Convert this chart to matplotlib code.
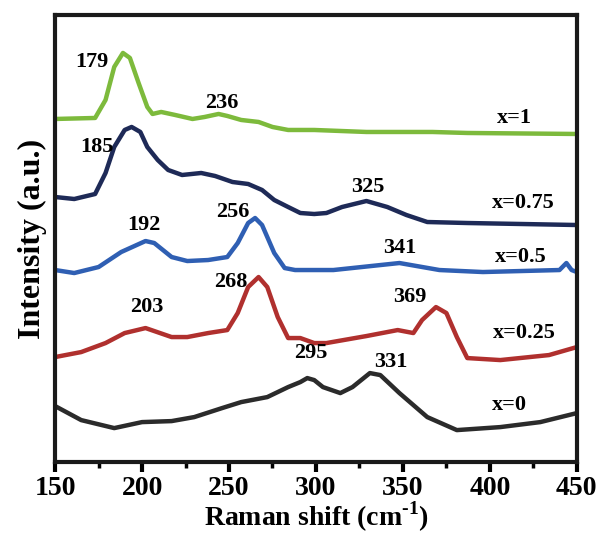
import matplotlib.pyplot as plt
from matplotlib.ticker import MultipleLocator

# Raman spectra, offset vertically for each composition (arbitrary units)
shift_x1 = [150, 173, 179, 184, 189, 193, 198, 203, 206, 211, 219, 229, 236, 244, 249,
            257, 267, 275, 284, 299, 329, 367, 387, 450]
int_x1 = [343, 344, 362, 395, 409, 404, 379, 355, 348, 350, 347, 343, 345, 348, 346,
          342, 340, 335, 332, 332, 330, 330, 329, 328]

shift_x075 = [150, 161, 173, 179, 184, 190, 194, 199, 203, 209, 215, 223, 234, 242, 252,
              261, 269, 276, 284, 291, 299, 306, 315, 329, 341, 352, 364, 387, 450]
int_x075 = [265, 263, 268, 289, 315, 332, 335, 330, 315, 302, 292, 287, 289, 286, 280,
            278, 272, 262, 255, 249, 248, 249, 255, 261, 255, 247, 240, 239, 237]

shift_x05 = [150, 161, 175, 188, 202, 207, 217, 226, 238, 249, 255, 261, 265, 269, 276,
             282, 288, 299, 310, 348, 371, 396, 440, 444, 447, 450]
int_x05 = [192, 189, 195, 210, 221, 219, 205, 201, 202, 205, 219, 239, 244, 237, 209,
           194, 192, 192, 192, 199, 192, 190, 192, 199, 192, 190]

shift_x025 = [150, 165, 179, 190, 202, 207, 217, 226, 238, 249, 255, 261, 267, 272, 278,
              284, 291, 299, 306, 329, 347, 356, 361, 369, 375, 381, 387, 406, 434, 450]
int_x025 = [105, 110, 119, 129, 134, 131, 125, 125, 129, 132, 149, 175, 185, 175, 145,
            124, 124, 119, 119, 126, 132, 129, 142, 155, 149, 125, 104, 102, 107, 115]

shift_x0 = [150, 165, 184, 200, 217, 230, 246, 257, 272, 284, 291, 295, 299, 304, 314,
            321, 331, 337, 348, 364, 381, 406, 429, 450]
int_x0 = [56, 42, 34, 40, 41, 45, 54, 60, 65, 75, 80, 84, 82, 75, 69, 75, 89, 87, 69,
          45, 32, 35, 40, 49]

series = [
    (shift_x0, int_x0, "#2b2b2b"),
    (shift_x025, int_x025, "#b0302e"),
    (shift_x05, int_x05, "#2f5fb3"),
    (shift_x075, int_x075, "#1e2a57"),
    (shift_x1, int_x1, "#7dba3c"),
]

# peak positions written next to each band
peak_text = ["179", "236", "185", "325", "192", "256", "341", "203", "268", "369", "295", "331"]
peak_x = [171, 246, 174, 330, 201, 252, 348, 203, 251, 354, 297, 343]
peak_y = [400, 359, 315, 275, 237, 250, 214, 155, 180, 165, 109, 100]

comp_text = ["x=1", "x=0.75", "x=0.5", "x=0.25", "x=0"]
comp_x = [414, 419, 418, 420, 411]
comp_y = [344, 259, 205, 129, 57]

plt.rcParams['font.family'] = ['Liberation Serif', 'DejaVu Serif']
plt.rcParams['font.weight'] = 'bold'
plt.rcParams['mathtext.fontset'] = 'custom'
plt.rcParams['mathtext.rm'] = 'Liberation Serif:bold'
plt.rcParams['mathtext.bf'] = 'Liberation Serif:bold'

fig = plt.figure(figsize=(5.99, 5.33), dpi=100)
ax = fig.add_axes([0.092, 0.133, 0.871, 0.839])

for sx, sy, col in series:
    ax.plot(sx, sy, color=col, lw=3.2, solid_joinstyle='round', solid_capstyle='round')

for t, px, py in zip(peak_text, peak_x, peak_y):
    ax.text(px, py, t, ha='center', va='center', fontsize=16, fontweight='bold')

for t, px, py in zip(comp_text, comp_x, comp_y):
    ax.text(px, py, t, ha='center', va='center', fontsize=16, fontweight='bold')

ax.set_xlim(150, 450)
ax.set_ylim(0, 447)
ax.xaxis.set_major_locator(MultipleLocator(50))
ax.xaxis.set_minor_locator(MultipleLocator(25))
ax.set_yticks([])
ax.tick_params(axis='x', which='major', direction='out', length=7, width=3,
               labelsize=20, pad=3)
ax.tick_params(axis='x', which='minor', direction='out', length=4, width=2.5)
for lab in ax.get_xticklabels():
    lab.set_fontweight('bold')
for sp in ax.spines.values():
    sp.set_linewidth(3)
    sp.set_color('#1a1a1a')

ax.set_xlabel("Raman shift (cm$^{\\text{-}1}$)", fontsize=20, fontweight='bold', labelpad=-1)
ax.set_ylabel("Intensity (a.u.)", fontsize=23, fontweight='bold', labelpad=6)

fig.savefig("out.png", dpi=100)
